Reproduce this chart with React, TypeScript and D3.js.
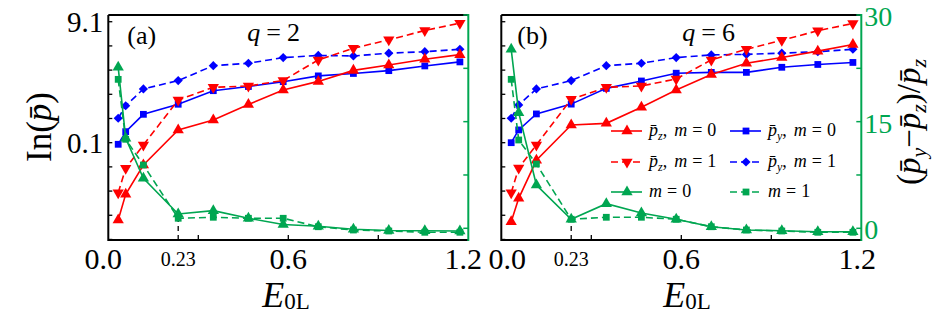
import React from 'react';
import * as d3 from 'd3';

// ---------------- data ----------------
const E0L = [0.033, 0.058, 0.117, 0.233, 0.35, 0.467, 0.583, 0.7, 0.817, 0.935, 1.055, 1.172];

// panel (a), q = 2   (left axis: ln p, right axis: ratio)
const aPzM0 = [-5.65, -3.74, -1.56, 1.05, 1.79, 2.94, 4.02, 4.66, 5.48, 5.88, 6.31, 6.65];
const aPzM1 = [-3.62, -1.81, -0.07, 3.28, 4.22, 4.32, 4.73, 6.26, 7.13, 7.75, 8.45, 8.99];
const aPyM0 = [-0.02, 0.92, 2.21, 2.96, 3.97, 4.28, 4.64, 5.07, 5.25, 5.46, 5.81, 6.11];
const aPyM1 = [1.92, 2.85, 4.10, 4.72, 5.83, 6.01, 6.43, 6.59, 6.55, 6.76, 6.87, 7.05];
const aRatioM0 = [22.64, 12.66, 7.03, 2.01, 2.48, 1.41, 0.53, 0.28, -0.14, -0.31, -0.34, -0.38];
const aRatioM1 = [20.95, 12.52, 8.9, 1.41, 1.55, 1.41, 1.41, 0.22, -0.24, -0.38, -0.56, -0.56];

// panel (b), q = 6
const bPzM0 = [-5.78, -4.04, -1.21, 1.42, 1.54, 2.74, 4.02, 5.18, 6.01, 6.44, 6.91, 7.40];
const bPzM1 = [-3.62, -1.78, -0.07, 3.33, 4.22, 4.32, 4.84, 6.26, 7.05, 7.72, 8.43, 8.97];
const bPyM0 = [0.10, 1.05, 2.24, 2.97, 4.14, 4.69, 5.27, 5.33, 5.33, 5.71, 5.92, 6.07];
const bPyM1 = [1.92, 2.91, 4.10, 4.72, 5.83, 6.01, 6.43, 6.63, 6.67, 6.76, 6.87, 7.05];
const bRatioM0 = [25.17, 16.26, 6.09, 1.27, 3.46, 2.15, 1.27, 0.22, -0.24, -0.34, -0.48, -0.48];
const bRatioM1 = [20.95, 12.42, 9.04, 1.27, 1.55, 1.55, 1.27, 0.22, -0.24, -0.38, -0.56, -0.56];

const leftTicks = [-7.1, -5.3, -3.5, -1.7, 0.1, 1.9, 3.7, 5.5, 7.3, 9.1];
const leftTickLabels = ['0.1', '9.1'];
const leftTickLabelValues = [0.1, 9.1];
const rightTicks = [0, 7.5, 15, 22.5, 30];
const rightTickLabels = ['0', '15', '30'];
const rightTickLabelValues = [0, 15, 30];
const xTicks = [0.3, 0.6, 0.9];
const xTickLabels = ['0.0', '0.23', '0.6', '1.2'];
const xTickLabelValues = [0, 0.233, 0.6, 1.2];
const markX = 0.233;

// ---------------- styling ----------------
const RED = '#ff0000';
const BLUE = '#0000ff';
const GREEN = '#00a651';
const DASH = '7,4';
const FONT = "'Liberation Serif', 'DejaVu Serif', serif";
const TOP = 15;
const BOTTOM = 240;
const PW = 360;

const PBAR = 'p\u0304';

function markerPath(m: string) {
  if (m === 'square') return d3.symbol(d3.symbolSquare, 46)() as string;
  if (m === 'diamond') return d3.symbol(d3.symbolSquare, 42)() as string;
  return d3.symbol(d3.symbolTriangle, 55)() as string;
}
function markerRot(m: string) {
  if (m === 'diamond') return 45;
  if (m === 'tridown') return 180;
  return 0;
}

function Marker({ m, x, y, color }: any) {
  return <path d={markerPath(m)} transform={`translate(${x},${y}) rotate(${markerRot(m)})`} fill={color} />;
}

function Panel({ p }: any) {
  const x = d3.scaleLinear().domain([0, 1.2]).range([p.left, p.left + PW]);
  const yL = d3.scaleLinear().domain([-7.14, 9.6]).range([BOTTOM, TOP]);
  const yR = d3.scaleLinear().domain([-1.645, 30]).range([BOTTOM, TOP]);
  const series = [
    { v: p.pyM0, color: BLUE, dash: null, m: 'square', y: yL },
    { v: p.pyM1, color: BLUE, dash: DASH, m: 'diamond', y: yL },
    { v: p.pzM0, color: RED, dash: null, m: 'tri', y: yL },
    { v: p.pzM1, color: RED, dash: DASH, m: 'tridown', y: yL },
    { v: p.rM0, color: GREEN, dash: null, m: 'tri', y: yR },
    { v: p.rM1, color: GREEN, dash: DASH, m: 'square', y: yR },
  ];
  const left = p.left;
  const right = p.left + PW;
  const markIdx = E0L.indexOf(markX);
  const labelShift = (i: number) => (i === 0 ? p.firstDx : i === xTickLabels.length - 1 ? p.lastDx : 0);
  return (
    <g>
      {/* dashed guide at 0.23 */}
      <line x1={x(markX)} x2={x(markX)} y1={BOTTOM} y2={yR(p.rM1[markIdx])} stroke="#000" strokeWidth={1.3} strokeDasharray="5,4" />
      {series.map((s, i) => {
        const line = d3.line<number>().x((_, j) => x(E0L[j])).y((d) => s.y(d));
        return (
          <g key={i}>
            <path d={line(s.v) as string} fill="none" stroke={s.color} strokeWidth={1.6} strokeDasharray={s.dash || undefined} />
            {s.v.map((d: number, j: number) => (
              <Marker key={j} m={s.m} x={x(E0L[j])} y={s.y(d)} color={s.color} />
            ))}
          </g>
        );
      })}
      {/* frame */}
      <line x1={left} x2={right} y1={TOP} y2={TOP} stroke="#000" strokeWidth={2} />
      <line x1={left} x2={right} y1={BOTTOM} y2={BOTTOM} stroke="#000" strokeWidth={2} />
      <line x1={left} x2={left} y1={TOP} y2={BOTTOM + 1} stroke="#000" strokeWidth={2} />
      <line x1={right} x2={right} y1={TOP - 1} y2={BOTTOM + 1} stroke={GREEN} strokeWidth={2} />
      {/* left ticks */}
      {leftTicks.map((t, i) => (
        <line key={i} x1={left} x2={left + 4} y1={yL(t)} y2={yL(t)} stroke="#000" strokeWidth={1.3} />
      ))}
      {/* right ticks */}
      {rightTicks.map((t, i) => (
        <line key={i} x1={right - 5} x2={right} y1={yR(t)} y2={yR(t)} stroke={GREEN} strokeWidth={1.5} />
      ))}
      {/* bottom ticks */}
      {xTicks.map((t, i) => (
        <line key={i} x1={x(t)} x2={x(t)} y1={BOTTOM} y2={BOTTOM - 5} stroke="#000" strokeWidth={1.3} />
      ))}
      {/* x tick labels */}
      {xTickLabels.map((t, i) => (
        <text key={i} x={x(xTickLabelValues[i]) + labelShift(i)} y={t === '0.23' ? 266 : 269} textAnchor="middle"
          fontSize={t === '0.23' ? 20 : 30} fill="#000">{t}</text>
      ))}
      {p.showLeftLabels && leftTickLabels.map((t, i) => (
        <text key={i} x={left - 5} y={yL(leftTickLabelValues[i]) + 10} textAnchor="end" fontSize={29}>{t}</text>
      ))}
      {p.showRightLabels && rightTickLabels.map((t, i) => (
        <text key={i} x={right + 3} y={yR(rightTickLabelValues[i]) + 11} fontSize={28} fill={GREEN}>{t}</text>
      ))}
      {/* panel label */}
      <text x={left + p.labelDx} y={44} fontSize={26}>{p.label}</text>
      <text x={left + p.qDx} y={41} fontSize={26}>
        <tspan fontStyle="italic">q</tspan>
        <tspan dx={6}>=</tspan>
        <tspan dx={6}>{p.q}</tspan>
      </text>
      {/* x title */}
      <text x={left + p.xtDx} y={307} fontSize={36}>
        <tspan fontStyle="italic">E</tspan>
        <tspan fontSize={23} dy={2}>0L</tspan>
      </text>
    </g>
  );
}

function LegendText({ x, y, sub, m }: any) {
  return (
    <text x={x} y={y} fontSize={18}>
      {sub ? (
        <>
          <tspan fontStyle="italic">{PBAR}</tspan>
          <tspan fontStyle="italic" fontSize={12} dy={4}>{sub}</tspan>
          <tspan dy={-4}>,</tspan>
          <tspan dx={7} fontStyle="italic">m</tspan>
        </>
      ) : (
        <tspan fontStyle="italic">m</tspan>
      )}
      <tspan dx={5}>=</tspan>
      <tspan dx={5}>{m}</tspan>
    </text>
  );
}

function LegendItem({ x, y, color, dash, m, sub, mv }: any) {
  return (
    <g>
      <line x1={x} x2={x + 31} y1={y} y2={y} stroke={color} strokeWidth={1.6} strokeDasharray={dash || undefined} />
      <Marker m={m} x={x + 16} y={y} color={color} />
      <LegendText x={x + 38} y={y + 5} sub={sub} m={mv} />
    </g>
  );
}

export default function App() {
  const panels = [
    { left: 108.3, pzM0: aPzM0, pzM1: aPzM1, pyM0: aPyM0, pyM1: aPyM1, rM0: aRatioM0, rM1: aRatioM1,
      label: '(a)', q: 2, labelDx: 19, qDx: 139, xtDx: 154, firstDx: -5, lastDx: -5,
      showLeftLabels: true, showRightLabels: false },
    { left: 501.3, pzM0: bPzM0, pzM1: bPzM1, pyM0: bPyM0, pyM1: bPyM1, rM0: bRatioM0, rM1: bRatioM1,
      label: '(b)', q: 6, labelDx: 16, qDx: 181, xtDx: 162, firstDx: 6, lastDx: -4,
      showLeftLabels: false, showRightLabels: true },
  ];
  return (
    <svg width={938} height={325} style={{ position: 'absolute', left: 0, top: 0, background: '#fff' }}
      fontFamily={FONT}>
      <rect x={0} y={0} width={938} height={325} fill="#fff" />
      {panels.map((p, i) => <Panel key={i} p={p} />)}
      {/* legend in panel (b) */}
      <LegendItem x={611} y={131} color={RED} m="tri" sub="z" mv="0" />
      <LegendItem x={730} y={131} color={BLUE} m="square" sub="y" mv="0" />
      <LegendItem x={611} y={162} color={RED} dash={DASH} m="tridown" sub="z" mv="1" />
      <LegendItem x={730} y={162} color={BLUE} dash={DASH} m="diamond" sub="y" mv="1" />
      <LegendItem x={611} y={192} color={GREEN} m="tri" mv="0" />
      <LegendItem x={730} y={192} color={GREEN} dash={DASH} m="square" mv="1" />
      {/* left title */}
      <text transform="translate(51,127) rotate(-90)" textAnchor="middle" fontSize={35}>
        <tspan>In(</tspan><tspan fontStyle="italic">{PBAR}</tspan><tspan>)</tspan>
      </text>
      {/* right title */}
      <text transform="translate(920,122) rotate(-90)" textAnchor="middle" fontSize={33}>
        <tspan>(</tspan>
        <tspan fontStyle="italic">{PBAR}</tspan>
        <tspan fontStyle="italic" fontSize={22} dy={6}>y</tspan>
        <tspan dy={-6}>−</tspan>
        <tspan fontStyle="italic">{PBAR}</tspan>
        <tspan fontStyle="italic" fontSize={22} dy={6}>z</tspan>
        <tspan dy={-6}>)/</tspan>
        <tspan fontStyle="italic">{PBAR}</tspan>
        <tspan fontStyle="italic" fontSize={22} dy={6}>z</tspan>
      </text>
    </svg>
  );
}
